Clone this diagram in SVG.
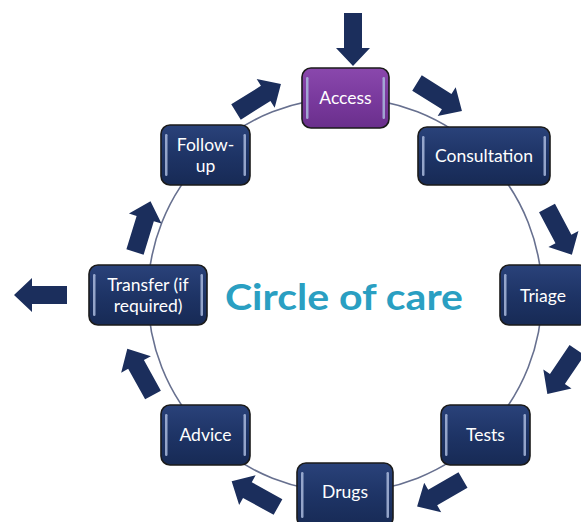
<svg xmlns="http://www.w3.org/2000/svg" width="581" height="522" viewBox="0 0 581 522">
<style>
.node rect.box{stroke:#1b1b1b;stroke-width:1.6}
.nav{fill:url(#gNav)}
.pur{fill:url(#gPur)}
.strip{fill:#a9b8dc;opacity:0.85}
.lbl{font-family:Lato,"Open Sans","DejaVu Sans",sans-serif;font-size:17.5px;fill:#ffffff;text-anchor:middle}
.arr{fill:#1b2e5c}
.title{font-family:Lato,"Open Sans","DejaVu Sans",sans-serif;font-weight:bold;font-size:36px;fill:#2a9fc2;text-anchor:middle}
</style>
<defs>
<linearGradient id="gNav" x1="0" y1="0" x2="0" y2="1">
<stop offset="0" stop-color="#2a427a"/>
<stop offset="0.5" stop-color="#1e3466"/>
<stop offset="1" stop-color="#172a55"/>
</linearGradient>
<linearGradient id="gPur" x1="0" y1="0" x2="0" y2="1">
<stop offset="0" stop-color="#8a48ad"/>
<stop offset="0.5" stop-color="#7a3a9e"/>
<stop offset="1" stop-color="#6a2f8c"/>
</linearGradient>
<path id="ar" d="M0,-9 L35,-9 L35,-17 L53,0 L35,17 L35,9 L0,9 Z"/>
</defs>
<rect width="581" height="522" fill="#ffffff"/>
<g id="connectors">
<circle cx="345" cy="295" r="197" fill="none" stroke="#67708f" stroke-width="1.6"/>
<use href="#ar" class="arr" transform="translate(353,13) rotate(90)"/>
<use href="#ar" class="arr" transform="translate(417,83) rotate(32)"/>
<use href="#ar" class="arr" transform="translate(547,208) rotate(62)"/>
<use href="#ar" class="arr" transform="translate(577,350) rotate(124)"/>
<use href="#ar" class="arr" transform="translate(463,480) rotate(150)"/>
<use href="#ar" class="arr" transform="translate(278,507) rotate(209)"/>
<use href="#ar" class="arr" transform="translate(153,395) rotate(241)"/>
<use href="#ar" class="arr" transform="translate(135,252) rotate(-73)"/>
<use href="#ar" class="arr" transform="translate(236,112) rotate(-32)"/>
<use href="#ar" class="arr" transform="translate(67,295) rotate(180)"/>
</g>
<g id="access" class="node">
<rect class="box pur" x="302" y="68" width="87" height="60" rx="9"/>
<rect class="strip" x="306" y="77" width="2.5" height="42" rx="1.2"/>
<rect class="strip" x="382.5" y="77" width="2.5" height="42" rx="1.2"/>
<text class="lbl" x="345.5" y="104">Access</text>
</g>
<g id="consultation" class="node">
<rect class="box nav" x="418" y="127" width="132" height="58" rx="9"/>
<rect class="strip" x="422" y="136" width="2.5" height="40" rx="1.2"/>
<rect class="strip" x="543.5" y="136" width="2.5" height="40" rx="1.2"/>
<text class="lbl" x="484" y="162">Consultation</text>
</g>
<g id="triage" class="node">
<rect class="box nav" x="500" y="265" width="88" height="60" rx="9"/>
<rect class="strip" x="504" y="274" width="2.5" height="42" rx="1.2"/>
<text class="lbl" x="543" y="302">Triage</text>
</g>
<g id="tests" class="node">
<rect class="box nav" x="441" y="405" width="89" height="60" rx="9"/>
<rect class="strip" x="445" y="414" width="2.5" height="42" rx="1.2"/>
<rect class="strip" x="523.5" y="414" width="2.5" height="42" rx="1.2"/>
<text class="lbl" x="485.5" y="441">Tests</text>
</g>
<g id="drugs" class="node">
<rect class="box nav" x="297" y="463" width="96" height="64" rx="9"/>
<rect class="strip" x="301" y="472" width="2.5" height="46" rx="1.2"/>
<rect class="strip" x="386.5" y="472" width="2.5" height="46" rx="1.2"/>
<text class="lbl" x="345" y="498">Drugs</text>
</g>
<g id="advice" class="node">
<rect class="box nav" x="161" y="405" width="89" height="60" rx="9"/>
<rect class="strip" x="165" y="414" width="2.5" height="42" rx="1.2"/>
<rect class="strip" x="243.5" y="414" width="2.5" height="42" rx="1.2"/>
<text class="lbl" x="205.5" y="441">Advice</text>
</g>
<g id="transfer" class="node">
<rect class="box nav" x="89" y="265" width="118" height="60" rx="9"/>
<rect class="strip" x="93" y="274" width="2.5" height="42" rx="1.2"/>
<rect class="strip" x="200.5" y="274" width="2.5" height="42" rx="1.2"/>
<text class="lbl" x="148" y="291">Transfer (if</text>
<text class="lbl" x="148" y="312">required)</text>
</g>
<g id="followup" class="node">
<rect class="box nav" x="161" y="125" width="89" height="60" rx="9"/>
<rect class="strip" x="165" y="134" width="2.5" height="42" rx="1.2"/>
<rect class="strip" x="243.5" y="134" width="2.5" height="42" rx="1.2"/>
<text class="lbl" x="205.5" y="151">Follow-</text>
<text class="lbl" x="205.5" y="172">up</text>
</g>
<g id="title">
<text class="title" x="344" y="310" textLength="238" lengthAdjust="spacingAndGlyphs">Circle of care</text>
</g>
</svg>
